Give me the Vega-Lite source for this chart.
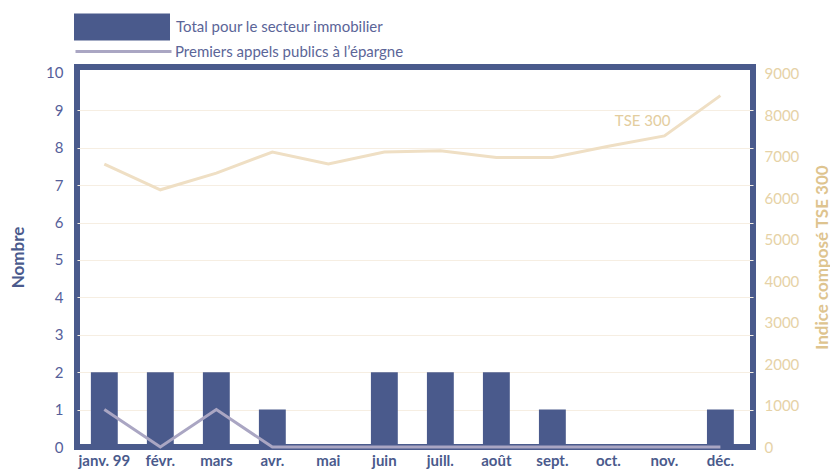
{
  "$schema": "https://vega.github.io/schema/vega-lite/v6.json",
  "width": 676,
  "height": 380,
  "autosize": {"type": "none"},
  "padding": {"left": 77, "top": 67, "right": 77, "bottom": 22},
  "background": "white",
  "config": {
    "font": "Lato",
    "view": {"stroke": "#4a5a8c", "strokeWidth": 6},
    "axis": {"labelFont": "Lato", "titleFont": "Lato"},
    "legend": {"labelFont": "Lato"}
  },
  "datasets": {
    "monthly": [
      {"month": "janv. 99", "total": 2, "ipo": 1, "tse": 6820},
      {"month": "févr.", "total": 2, "ipo": 0, "tse": 6200},
      {"month": "mars", "total": 2, "ipo": 1, "tse": 6600},
      {"month": "avr.", "total": 1, "ipo": 0, "tse": 7110},
      {"month": "mai", "total": 0, "ipo": 0, "tse": 6820},
      {"month": "juin", "total": 2, "ipo": 0, "tse": 7110},
      {"month": "juill.", "total": 2, "ipo": 0, "tse": 7140},
      {"month": "août", "total": 2, "ipo": 0, "tse": 6980},
      {"month": "sept.", "total": 1, "ipo": 0, "tse": 6980},
      {"month": "oct.", "total": 0, "ipo": 0, "tse": 7250},
      {"month": "nov.", "total": 0, "ipo": 0, "tse": 7500},
      {"month": "déc.", "total": 1, "ipo": 0, "tse": 8470}
    ],
    "label": [
      {"month": "nov.", "tse": 7850, "label": "TSE 300"}
    ]
  },
  "encoding": {
    "x": {
      "field": "month",
      "type": "nominal",
      "sort": null,
      "scale": {"paddingInner": 0.52, "paddingOuter": 0.295, "align": 0.42},
      "axis": {
        "title": null,
        "labelAngle": 0,
        "ticks": false,
        "domain": false,
        "labelPadding": 6,
        "labelFontSize": 15,
        "labelFontWeight": "bold",
        "labelColor": "#4a5a8c"
      }
    }
  },
  "layer": [
    {
      "data": {"name": "monthly"},
      "encoding": {
        "y": {
          "type": "quantitative",
          "scale": {"domain": [0, 10.16], "nice": false},
          "axis": {
            "orient": "left",
            "title": "Nombre",
            "values": [0, 1, 2, 3, 4, 5, 6, 7, 8, 9, 10],
            "ticks": false,
            "domain": false,
            "labelPadding": 14,
            "labelFontSize": 15,
            "labelColor": "#55609a",
            "titleFontSize": 17,
            "titleFontWeight": "bold",
            "titleColor": "#4a5a8c",
            "titleX": -59,
            "titleBaseline": "middle",
            "grid": true,
            "gridColor": "#f6eee2",
            "gridWidth": 1,
            "gridOpacity": {"condition": {"test": "datum.value === 0 || datum.value === 10", "value": 0}, "value": 1}
          }
        }
      },
      "layer": [
        {
          "mark": {"type": "bar"},
          "encoding": {
            "y": {"field": "total"},
            "fill": {
              "datum": "Total pour le secteur immobilier",
              "type": "nominal",
              "scale": {"range": ["#4a5a8c"]},
              "legend": {
                "title": null,
                "orient": "none",
                "legendX": -3,
                "legendY": -88,
                "symbolType": "M-1,-0.28H1V0.28H-1Z",
                "symbolSize": 9216,
                "symbolStrokeWidth": 0,
                "symbolOpacity": 1,
                "labelOffset": 6,
                "labelFontSize": 15,
                "labelColor": "#5b6598",
                "labelLimit": 0
              }
            }
          }
        },
        {
          "mark": {"type": "line", "strokeWidth": 3},
          "encoding": {
            "y": {"field": "ipo"},
            "stroke": {
              "datum": "Premiers appels publics à l’épargne",
              "type": "nominal",
              "scale": {"range": ["#aaa6c3"]},
              "legend": {
                "title": null,
                "orient": "none",
                "legendX": -3,
                "legendY": -65,
                "symbolType": "stroke",
                "symbolSize": 9216,
                "symbolStrokeWidth": 3,
                "labelOffset": 2,
                "labelFontSize": 15,
                "labelColor": "#5b6598",
                "labelLimit": 0
              }
            }
          }
        }
      ]
    },
    {
      "encoding": {
        "y": {
          "type": "quantitative",
          "scale": {"domain": [0, 9160], "nice": false},
          "axis": {
            "orient": "right",
            "title": "Indice composé TSE 300",
            "values": [0, 1000, 2000, 3000, 4000, 5000, 6000, 7000, 8000, 9000],
            "format": "d",
            "ticks": false,
            "domain": false,
            "grid": false,
            "labelPadding": 11,
            "labelFontSize": 15,
            "labelColor": "#e6d2a6",
            "titleFontSize": 17,
            "titleFontWeight": "bold",
            "titleColor": "#dec48f",
            "titleAngle": 270,
            "titleX": 69,
            "titleBaseline": "middle",
            "titleAlign": "center"
          }
        }
      },
      "layer": [
        {
          "data": {"name": "monthly"},
          "mark": {"type": "line", "strokeWidth": 3, "color": "#efdfc4"},
          "encoding": {"y": {"field": "tse"}}
        },
        {
          "data": {"name": "label"},
          "mark": {"type": "text", "align": "right", "baseline": "middle", "dx": 6, "fontSize": 15, "color": "#e3cd9e", "font": "Lato"},
          "encoding": {"y": {"field": "tse"}, "text": {"field": "label"}}
        }
      ]
    }
  ],
  "resolve": {"scale": {"y": "independent"}}
}
